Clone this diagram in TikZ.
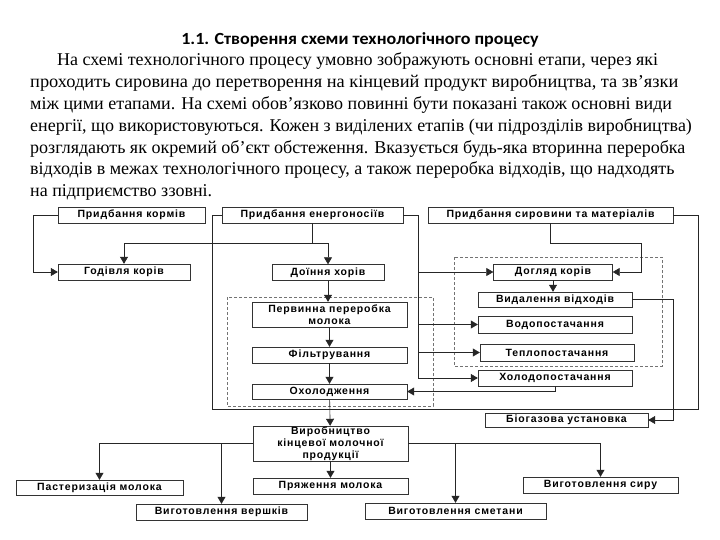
\documentclass[tikz,border=0pt]{standalone}
\usepackage{fontspec}
\setmainfont{Liberation Serif}
\newfontfamily\titlefont{Carlito}
\newfontfamily\boxfont[LetterSpace=8]{Liberation Sans}
\usetikzlibrary{arrows, arrows.meta, positioning}
\tikzstyle{block} = [rectangle, draw=black!80, fill=white, inner sep=0pt, minimum height=16pt, align=center, font=\boxfont\bfseries\fontsize{10.5}{11.8}\selectfont]
\tikzstyle{zone} = [draw=black!55, dash pattern=on 3pt off 2pt]
\tikzstyle{line} = [draw=black!85, line width=0.6pt]
\tikzstyle{arrow} = [line, ->, >={Triangle[length=7pt,width=8pt]}]
\tikzstyle{bodyline} = [anchor=base west, inner sep=0pt, font=\fontsize{18}{20}\selectfont]

\begin{document}
\begin{tikzpicture}[x=1pt, y=-1pt]

\fill[white] (0,0) rectangle (720,540);
\useasboundingbox (0,0) rectangle (720,540);

\node (title) [font=\titlefont\bfseries\fontsize{17}{20}\selectfont, xscale=1.06] at (360,40) {1.1. Створення схеми технологічного процесу};
\node (par1) [bodyline] at (57,66) {На схемі технологічного процесу умовно зображують основні етапи, через які};
\node (par2) [bodyline, xscale=1.02] at (30,87.8) {проходить сировина до перетворення на кінцевий продукт виробництва, та зв'язки};
\node (par3) [bodyline] at (30,109.6) {між цими етапами. На схемі обов'язково повинні бути показані також основні види};
\node (par4) [bodyline] at (30,131.4) {енергії, що використовуються. Кожен з виділених етапів (чи підрозділів виробництва)};
\node (par5) [bodyline] at (30,153.2) {розглядають як окремий об'єкт обстеження. Вказується будь-яка вторинна переробка};
\node (par6) [bodyline] at (30,175) {відходів в межах технологічного процесу, а також переробка відходів, що надходять};
\node (par7) [bodyline] at (30,196.8) {на підприємство ззовні.};

\draw[zone] (227,297) rectangle (433,406);
\draw[zone] (454,257) rectangle (662,366);

\node (feedbuy) [block, minimum width=147pt] at (131.5,215) {Придбання кормів};
\node (energybuy) [block, minimum width=181pt] at (312.5,215) {Придбання енергоносіїв};
\node (rawbuy) [block, minimum width=245pt] at (550.5,215) {Придбання сировини та матеріалів};
\node (feeding) [block, minimum width=132pt] at (124,272) {Годівля корів};
\node (milking) [block, minimum width=112pt] at (328,272.5) {Доїння хорів};
\node (care) [block, minimum width=119pt] at (553,272) {Догляд корів};
\node (waste) [block, minimum width=154pt, minimum height=15pt] at (555,299.5) {Видалення відходів};
\node (water) [block, minimum width=154pt, minimum height=17pt] at (555,324.5) {Водопостачання};
\node (heat) [block, minimum width=154pt, minimum height=17pt] at (557,352.5) {Теплопостачання};
\node (cold) [block, minimum width=154pt] at (555,378) {Холодопостачання};
\node (biogas) [block, minimum width=163pt, minimum height=14pt] at (566.5,420) {Біогазова установка};
\node (prim) [block, minimum width=155pt, minimum height=25pt] at (329.5,314.5) {Первинна переробка\\молока};
\node (filter) [block, minimum width=155pt] at (329.5,355) {Фільтрування};
\node (cool) [block, minimum width=155pt, minimum height=15pt] at (329.5,391.5) {Охолодження};
\node (prod) [block, minimum width=155pt, minimum height=35pt] at (330.5,443.5) {Виробництво\\кінцевої молочної\\продукції};
\node (past) [block, minimum width=167pt, minimum height=15pt] at (99.5,487.5) {Пастеризація молока};
\node (cream) [block, minimum width=171pt] at (221.5,512) {Виготовлення вершків};
\node (baked) [block, minimum width=155pt] at (330.5,486) {Пряження молока};
\node (sourcream) [block, minimum width=181pt] at (455.5,511) {Виготовлення сметани};
\node (cheese) [block, minimum width=155pt] at (600.5,485) {Виготовлення сиру};

\coordinate (feedturn) at (33,272);
\coordinate (esplit) at (312.5,243);
\coordinate (bus) at (418,378);
\coordinate (rawturn) at (641,243);
\coordinate (bioturn) at (673,420);
\coordinate (fr) at (698,409);
\coordinate (fl) at (212,409);

\draw[arrow] (feedbuy.west) -| (feedturn) -- (feeding.west);
\draw[line] (energybuy.south) -- (esplit);
\draw[arrow] (esplit) -| (feeding.north);
\draw[arrow] (esplit) -| (milking.north);
\draw[line] (rawbuy.east) -| (fr) -- (fl) |- (energybuy.west);
\draw[arrow] (energybuy.east) -| (bus) -- (cold.west);
\draw[arrow] (bus |- care) -- (care);
\draw[arrow] (bus |- water) -- (water);
\draw[arrow] (bus |- heat) -- (heat);
\draw[arrow] (rawbuy.south) |- (rawturn) |- (care.east);
\draw[arrow] (care) -- (care |- waste.north);
\draw[arrow] (waste.east) -| (bioturn) -- (biogas.east);
\draw[arrow] (cold.south) |- (cool.east);
\draw[arrow] (milking) -- (milking |- prim.north);
\draw[arrow] (prim) -- (filter);
\draw[arrow] (filter) -- (cool);
\draw[arrow] (cool) -- (prod);
\draw[arrow] (prod) -- (baked);
\draw[arrow] (prod.west) -| (past.north);
\draw[arrow] (prod.west -| cream) -- (cream);
\draw[arrow] (prod.east) -| (cheese.north);
\draw[arrow] (prod.east -| sourcream) -- (sourcream);

\end{tikzpicture}
\end{document}
